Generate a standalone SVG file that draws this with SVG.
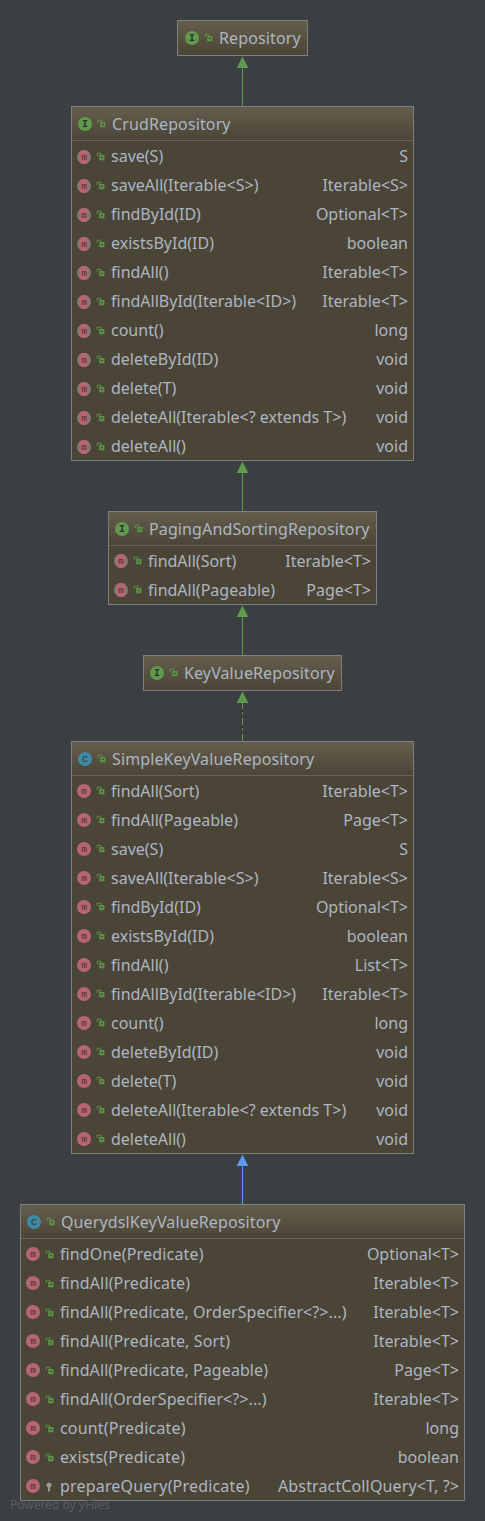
<svg xmlns="http://www.w3.org/2000/svg" xmlns:xlink="http://www.w3.org/1999/xlink" width="485" height="1521" viewBox="0 0 485 1521">
<style>
text{font-family:"Noto Sans","Open Sans","Liberation Sans",sans-serif;font-size:16px;fill:#adb6c1}
.t{letter-spacing:.12px}
.r{text-anchor:end}
.box{fill:#4b4537;stroke:#7d7f7f;stroke-width:1}
.sep{stroke:#66635a;stroke-width:1}
.il{font-family:"Liberation Mono",monospace;font-size:10px;font-weight:700;text-anchor:middle;fill:#33332d}
.wm{font-size:12px;fill:#5a5d5f}
.g{stroke:#5f9a4e;stroke-width:1;fill:none}
.b{stroke:#5c9bea;stroke-width:1;fill:none}
</style>
<defs>
<linearGradient id="hd" x1="0" y1="0" x2="0" y2="1"><stop offset="0" stop-color="#655e4e"/><stop offset="1" stop-color="#4b4537"/></linearGradient>
<g id="lock"><path d="M-2.800-1V-3.800H.8V-2" fill="none" stroke="#5d9348" stroke-width="1"/><rect x="-.8" y="-2" width="5.200" height="5.300" fill="#5d9348"/><rect x=".8" y="-.2" width="2" height="1.300" fill="#3c4a30"/></g>
<g id="I"><circle r="7" fill="#5f9a4e"/><text class="il" y="3">I</text></g>
<g id="C"><circle r="7" fill="#3f8ba6"/><text class="il" y="3" style="font-weight:400;font-size:11px">c</text></g>
<g id="ma"><circle r="7" fill="#7d7a78"/><rect x="-4.500" y="-7" width="9" height="14" rx="4" fill="#b5666f"/><text class="il" y="3" style="font-weight:400;font-size:9.500px;fill:#4a2f30">m</text></g>
<g id="m"><circle r="7" fill="#b5666f"/><text class="il" y="3" style="font-weight:400;font-size:9.500px;fill:#4a2f30">m</text></g>
<g id="key"><circle cy="-2" r="2.500" fill="#9a9a94"/><rect x="-1" y="-1" width="2" height="5.500" fill="#9a9a94"/></g>
</defs>
<rect width="485" height="1521" fill="#3c3f41"/>
<g id="connectors">
<path class="g" d="M242.500 106V67"/><path d="M242.500 56.500l-5.800 11.500h11.600z" fill="#5f9a4e"/>
<path class="g" d="M242.500 511V472"/><path d="M242.500 461.500l-5.800 11.500h11.600z" fill="#5f9a4e"/>
<path class="g" d="M242.500 655V616"/><path d="M242.500 605.500l-5.800 11.500h11.600z" fill="#5f9a4e"/>
<path class="g" stroke-dasharray="7 3 3 3" d="M242.500 741V702"/><path d="M242.500 691.500l-5.800 11.500h11.600z" fill="#5f9a4e"/>
<path class="b" d="M242.500 1204V1165"/><path d="M242.500 1154.500l-5.800 11.500h11.600z" fill="#5c9bea"/>
</g>
<g id="Repository">
<rect class="box" x="177.500" y="20.500" width="130" height="35" style="fill:url(#hd)"/>
<use href="#I" x="192" y="38"/><use href="#lock" x="208" y="38"/><text class="t" x="219" y="44">Repository</text>
</g>
<g id="CrudRepository">
<rect class="box" x="71.500" y="106.500" width="342" height="354"/>
<rect x="72" y="107" width="341" height="33" fill="url(#hd)"/><path class="sep" d="M72 140.500H413"/>
<use href="#I" x="85" y="124"/><use href="#lock" x="101" y="124"/><text class="t" x="112" y="130">CrudRepository</text>
<use href="#ma" x="84" y="157"/><use href="#lock" x="100" y="157"/><text x="111" y="162">save(S)</text><text class="r" x="408" y="162">S</text>
<use href="#ma" x="84" y="186"/><use href="#lock" x="100" y="186"/><text x="111" y="191">saveAll(Iterable&lt;S&gt;)</text><text class="r" x="408" y="191">Iterable&lt;S&gt;</text>
<use href="#ma" x="84" y="215"/><use href="#lock" x="100" y="215"/><text x="111" y="220">findById(ID)</text><text class="r" x="408" y="220">Optional&lt;T&gt;</text>
<use href="#ma" x="84" y="244"/><use href="#lock" x="100" y="244"/><text x="111" y="249">existsById(ID)</text><text class="r" x="408" y="249">boolean</text>
<use href="#ma" x="84" y="273"/><use href="#lock" x="100" y="273"/><text x="111" y="278">findAll()</text><text class="r" x="408" y="278">Iterable&lt;T&gt;</text>
<use href="#ma" x="84" y="302"/><use href="#lock" x="100" y="302"/><text x="111" y="307">findAllById(Iterable&lt;ID&gt;)</text><text class="r" x="408" y="307">Iterable&lt;T&gt;</text>
<use href="#ma" x="84" y="331"/><use href="#lock" x="100" y="331"/><text x="111" y="336">count()</text><text class="r" x="408" y="336">long</text>
<use href="#ma" x="84" y="360"/><use href="#lock" x="100" y="360"/><text x="111" y="365">deleteById(ID)</text><text class="r" x="408" y="365">void</text>
<use href="#ma" x="84" y="389"/><use href="#lock" x="100" y="389"/><text x="111" y="394">delete(T)</text><text class="r" x="408" y="394">void</text>
<use href="#ma" x="84" y="418"/><use href="#lock" x="100" y="418"/><text x="111" y="423">deleteAll(Iterable&lt;? extends T&gt;)</text><text class="r" x="408" y="423">void</text>
<use href="#ma" x="84" y="447"/><use href="#lock" x="100" y="447"/><text x="111" y="452">deleteAll()</text><text class="r" x="408" y="452">void</text>
</g>
<g id="PagingAndSortingRepository">
<rect class="box" x="108.500" y="511.500" width="268" height="93"/>
<rect x="109" y="512" width="267" height="33" fill="url(#hd)"/><path class="sep" d="M109 545.500H376"/>
<use href="#I" x="122" y="529"/><use href="#lock" x="138" y="529"/><text class="t" x="149" y="535">PagingAndSortingRepository</text>
<use href="#ma" x="121" y="561"/><use href="#lock" x="137" y="561"/><text x="148" y="567">findAll(Sort)</text><text class="r" x="371" y="567">Iterable&lt;T&gt;</text>
<use href="#ma" x="121" y="590"/><use href="#lock" x="137" y="590"/><text x="148" y="596">findAll(Pageable)</text><text class="r" x="371" y="596">Page&lt;T&gt;</text>
</g>
<g id="KeyValueRepository">
<rect class="box" x="143.500" y="655.500" width="198" height="35" style="fill:url(#hd)"/>
<use href="#I" x="157" y="673"/><use href="#lock" x="173" y="673"/><text class="t" x="184" y="679">KeyValueRepository</text>
</g>
<g id="SimpleKeyValueRepository">
<rect class="box" x="71.500" y="741.500" width="342" height="412"/>
<rect x="72" y="742" width="341" height="33" fill="url(#hd)"/><path class="sep" d="M72 775.500H413"/>
<use href="#C" x="85" y="759"/><use href="#lock" x="101" y="759"/><text class="t" x="112" y="765">SimpleKeyValueRepository</text>
<use href="#m" x="84" y="791"/><use href="#lock" x="100" y="791"/><text x="111" y="797">findAll(Sort)</text><text class="r" x="408" y="797">Iterable&lt;T&gt;</text>
<use href="#m" x="84" y="820"/><use href="#lock" x="100" y="820"/><text x="111" y="826">findAll(Pageable)</text><text class="r" x="408" y="826">Page&lt;T&gt;</text>
<use href="#m" x="84" y="849"/><use href="#lock" x="100" y="849"/><text x="111" y="855">save(S)</text><text class="r" x="408" y="855">S</text>
<use href="#m" x="84" y="878"/><use href="#lock" x="100" y="878"/><text x="111" y="884">saveAll(Iterable&lt;S&gt;)</text><text class="r" x="408" y="884">Iterable&lt;S&gt;</text>
<use href="#m" x="84" y="907"/><use href="#lock" x="100" y="907"/><text x="111" y="913">findById(ID)</text><text class="r" x="408" y="913">Optional&lt;T&gt;</text>
<use href="#m" x="84" y="936"/><use href="#lock" x="100" y="936"/><text x="111" y="942">existsById(ID)</text><text class="r" x="408" y="942">boolean</text>
<use href="#m" x="84" y="965"/><use href="#lock" x="100" y="965"/><text x="111" y="971">findAll()</text><text class="r" x="408" y="971">List&lt;T&gt;</text>
<use href="#m" x="84" y="994"/><use href="#lock" x="100" y="994"/><text x="111" y="1000">findAllById(Iterable&lt;ID&gt;)</text><text class="r" x="408" y="1000">Iterable&lt;T&gt;</text>
<use href="#m" x="84" y="1023"/><use href="#lock" x="100" y="1023"/><text x="111" y="1029">count()</text><text class="r" x="408" y="1029">long</text>
<use href="#m" x="84" y="1052"/><use href="#lock" x="100" y="1052"/><text x="111" y="1058">deleteById(ID)</text><text class="r" x="408" y="1058">void</text>
<use href="#m" x="84" y="1081"/><use href="#lock" x="100" y="1081"/><text x="111" y="1087">delete(T)</text><text class="r" x="408" y="1087">void</text>
<use href="#m" x="84" y="1110"/><use href="#lock" x="100" y="1110"/><text x="111" y="1116">deleteAll(Iterable&lt;? extends T&gt;)</text><text class="r" x="408" y="1116">void</text>
<use href="#m" x="84" y="1139"/><use href="#lock" x="100" y="1139"/><text x="111" y="1145">deleteAll()</text><text class="r" x="408" y="1145">void</text>
</g>
<g id="QuerydslKeyValueRepository">
<rect class="box" x="20.500" y="1204.500" width="444" height="296"/>
<rect x="21" y="1205" width="443" height="33" fill="url(#hd)"/><path class="sep" d="M21 1238.500H464"/>
<use href="#C" x="34" y="1222"/><use href="#lock" x="50" y="1222"/><text class="t" x="61" y="1228">QuerydslKeyValueRepository</text>
<use href="#m" x="33" y="1254"/><use href="#lock" x="49" y="1255"/><text x="60" y="1260" textLength="143.500">findOne(Predicate)</text><text class="r" x="459" y="1260">Optional&lt;T&gt;</text>
<use href="#m" x="33" y="1283"/><use href="#lock" x="49" y="1284"/><text x="60" y="1289" textLength="130">findAll(Predicate)</text><text class="r" x="459" y="1289">Iterable&lt;T&gt;</text>
<use href="#m" x="33" y="1312"/><use href="#lock" x="49" y="1313"/><text x="60" y="1318" textLength="286.500">findAll(Predicate, OrderSpecifier&lt;?&gt;...)</text><text class="r" x="459" y="1318">Iterable&lt;T&gt;</text>
<use href="#m" x="33" y="1341"/><use href="#lock" x="49" y="1342"/><text x="60" y="1347" textLength="170">findAll(Predicate, Sort)</text><text class="r" x="459" y="1347">Iterable&lt;T&gt;</text>
<use href="#m" x="33" y="1370"/><use href="#lock" x="49" y="1371"/><text x="60" y="1376" textLength="208">findAll(Predicate, Pageable)</text><text class="r" x="459" y="1376">Page&lt;T&gt;</text>
<use href="#m" x="33" y="1399"/><use href="#lock" x="49" y="1400"/><text x="60" y="1405" textLength="206.500">findAll(OrderSpecifier&lt;?&gt;...)</text><text class="r" x="459" y="1405">Iterable&lt;T&gt;</text>
<use href="#m" x="33" y="1428"/><use href="#lock" x="49" y="1429"/><text x="60" y="1434" textLength="125.500">count(Predicate)</text><text class="r" x="459" y="1434">long</text>
<use href="#m" x="33" y="1457"/><use href="#lock" x="49" y="1458"/><text x="60" y="1463" textLength="125">exists(Predicate)</text><text class="r" x="459" y="1463">boolean</text>
<use href="#m" x="33" y="1486"/><use href="#key" x="49" y="1487"/><text x="60" y="1492" textLength="189.500">prepareQuery(Predicate)</text><text class="r" x="459" y="1492" textLength="181">AbstractCollQuery&lt;T, ?&gt;</text>
</g>
<text class="wm" x="10" y="1509">Powered by yFiles</text>
</svg>
